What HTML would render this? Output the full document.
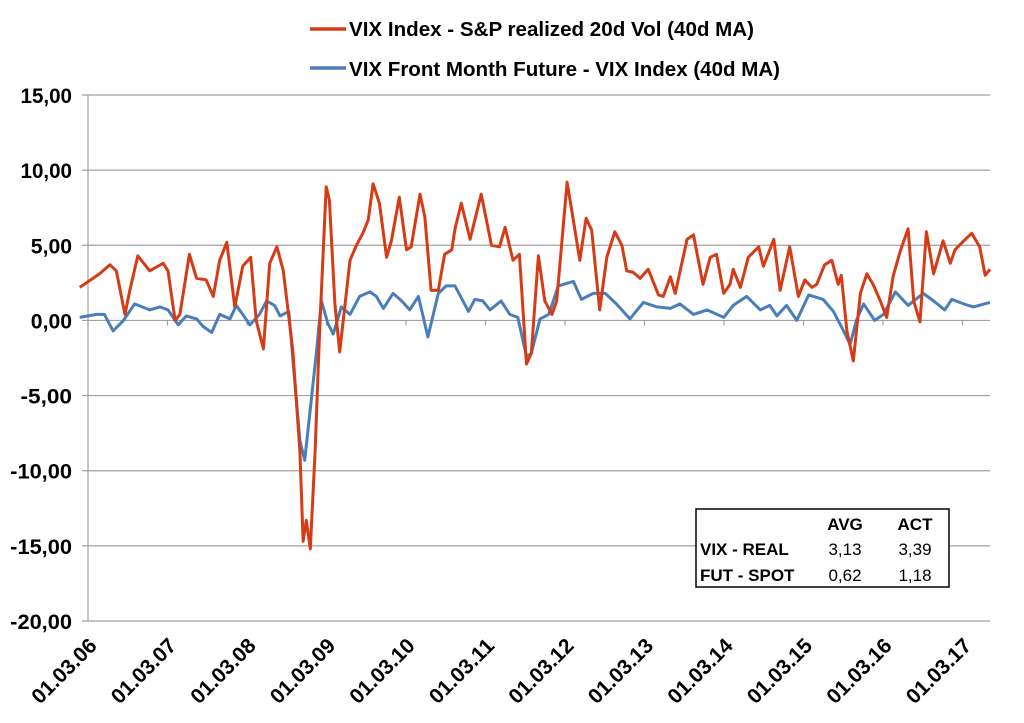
<!DOCTYPE html>
<html><head><meta charset="utf-8"><style>
body{margin:0;background:#fff;width:1024px;height:718px;overflow:hidden}
svg text{font-family:"Liberation Sans",Arial,sans-serif;font-weight:bold;fill:#000}
</style></head><body>
<svg id="c" width="1024" height="718"></svg>
<script>
const yTicks=[15,10,5,0,-5,-10,-15,-20];
const yTickLabels=["15,00","10,00","5,00","0,00","-5,00","-10,00","-15,00","-20,00"];
const xTickYears=[2006,2007,2008,2009,2010,2011,2012,2013,2014,2015,2016,2017];
const xTickLabels=["01.03.06","01.03.07","01.03.08","01.03.09","01.03.10","01.03.11","01.03.12","01.03.13","01.03.14","01.03.15","01.03.16","01.03.17"];
const redT=[2006.06,2006.31,2006.44,2006.52,2006.63,2006.69,2006.79,2006.94,2007.11,2007.17,2007.26,2007.32,2007.44,2007.53,2007.65,2007.74,2007.82,2007.91,2008.01,2008.11,2008.21,2008.28,2008.37,2008.45,2008.54,2008.62,2008.74,2008.83,2008.87,2008.91,2008.96,2009.02,2009.08,2009.16,2009.20,2009.27,2009.33,2009.46,2009.54,2009.62,2009.69,2009.75,2009.83,2009.92,2009.98,2010.08,2010.17,2010.23,2010.34,2010.40,2010.48,2010.57,2010.65,2010.74,2010.78,2010.86,2010.97,2011.11,2011.24,2011.34,2011.41,2011.51,2011.59,2011.68,2011.74,2011.83,2011.91,2012.00,2012.06,2012.19,2012.25,2012.35,2012.43,2012.50,2012.60,2012.69,2012.79,2012.88,2012.94,2013.02,2013.11,2013.21,2013.34,2013.40,2013.49,2013.55,2013.70,2013.78,2013.90,2013.99,2014.07,2014.16,2014.24,2014.28,2014.37,2014.47,2014.60,2014.66,2014.79,2014.87,2014.99,2015.10,2015.18,2015.27,2015.33,2015.43,2015.52,2015.60,2015.64,2015.71,2015.79,2015.88,2015.96,2016.04,2016.13,2016.21,2016.29,2016.38,2016.48,2016.55,2016.63,2016.71,2016.80,2016.92,2017.01,2017.07,2017.18,2017.28,2017.38,2017.45,2017.51];
const redV=[2.2,3.1,3.7,3.3,0.4,2.0,4.3,3.3,3.8,3.3,0,0.4,4.4,2.8,2.7,1.6,4.0,5.2,0.9,3.6,4.2,0,-1.9,3.8,4.9,3.3,-2.0,-8.7,-14.7,-13.3,-15.2,-8.7,-0.4,8.9,8.0,1.1,-2.1,4.0,5.0,5.8,6.7,9.1,7.8,4.2,5.3,8.2,4.7,4.9,8.4,6.9,2.0,2.0,4.4,4.7,6.1,7.8,5.4,8.4,5.0,4.9,6.2,4.0,4.4,-2.9,-2.2,4.3,1.3,0.4,1.3,9.2,7.3,4.0,6.8,6.0,0.7,4.2,5.9,5.0,3.3,3.2,2.8,3.4,1.7,1.6,2.9,1.8,5.4,5.7,2.4,4.2,4.4,1.8,2.4,3.4,2.2,4.2,4.9,3.6,5.4,2.0,4.9,1.6,2.7,2.2,2.4,3.7,4.0,2.4,3.0,-0.7,-2.7,1.8,3.1,2.4,1.3,0.2,2.9,4.6,6.1,1.3,-0.1,5.9,3.1,5.3,3.8,4.7,5.3,5.8,4.9,3.0,3.4];
const blueT=[2006.06,2006.27,2006.37,2006.48,2006.61,2006.75,2006.94,2007.07,2007.17,2007.30,2007.40,2007.53,2007.61,2007.72,2007.82,2007.95,2008.03,2008.11,2008.20,2008.32,2008.41,2008.51,2008.58,2008.69,2008.76,2008.83,2008.89,2008.95,2009.04,2009.10,2009.18,2009.25,2009.35,2009.46,2009.58,2009.71,2009.79,2009.88,2010.00,2010.11,2010.21,2010.32,2010.44,2010.57,2010.67,2010.78,2010.95,2011.03,2011.13,2011.22,2011.36,2011.47,2011.57,2011.68,2011.74,2011.85,2011.96,2012.08,2012.27,2012.37,2012.52,2012.67,2012.81,2012.98,2013.15,2013.32,2013.49,2013.61,2013.78,2013.95,2014.16,2014.28,2014.45,2014.62,2014.74,2014.83,2014.95,2015.08,2015.23,2015.41,2015.54,2015.64,2015.75,2015.83,2015.92,2016.06,2016.17,2016.32,2016.48,2016.67,2016.80,2016.94,2017.03,2017.18,2017.30,2017.51];
const blueV=[0.2,0.4,0.4,-0.7,0,1.1,0.7,0.9,0.7,-0.3,0.3,0.1,-0.4,-0.8,0.4,0.1,1.0,0.4,-0.3,0.4,1.3,1.0,0.3,0.6,-3.8,-8.0,-9.3,-6.4,-2.0,1.3,-0.2,-0.9,0.9,0.4,1.6,1.9,1.6,0.8,1.8,1.3,0.7,1.6,-1.1,1.8,2.3,2.3,0.6,1.4,1.3,0.7,1.3,0.4,0.2,-2.4,-2.2,0.1,0.4,2.3,2.6,1.4,1.8,1.8,1.1,0.1,1.2,0.9,0.8,1.1,0.4,0.7,0.2,1.0,1.6,0.7,1.0,0.3,1.0,0,1.7,1.4,0.6,-0.4,-1.6,0,1.1,0,0.4,1.9,1.0,1.8,1.3,0.7,1.4,1.1,0.9,1.2];
const tableRows=[["VIX - REAL","3,13","3,39"],["FUT - SPOT","0,62","1,18"]];

const NS="http://www.w3.org/2000/svg",svg=document.getElementById('c');
const X0=88,X1=990,Y0=95,Y1=621,T0=2006.164,PPY=79.5;
const xs=t=>X0+(t-T0)*PPY, ys=v=>Y0+(15-v)*(Y1-Y0)/35;
function el(tag,attrs,parent){const e=document.createElementNS(NS,tag);for(const k in attrs)e.setAttribute(k,attrs[k]);(parent||svg).appendChild(e);return e;}
yTicks.forEach((v,i)=>{
  const g=el('line',{x1:X0-6,x2:X1,y1:ys(v),y2:ys(v),stroke:'#a0a0a0','stroke-width':1.2});
  
  
  const s=yTickLabels[i];
  const t=el('text',{x:72,y:ys(v)+8,'text-anchor':'end','font-size':21,textLength:s.length*10.3,lengthAdjust:'spacingAndGlyphs'});
  t.textContent=s;
  
  
});
const ax=el('line',{x1:X0,x2:X0,y1:Y0,y2:Y1,stroke:'#a0a0a0','stroke-width':1.2});


xTickYears.forEach((yr,i)=>{
  const x=xs(yr+0.164);
  const tk=el('line',{x1:x,x2:x,y1:ys(0),y2:ys(0)+5,stroke:'#a0a0a0','stroke-width':1.2});
  
  
  const t=el('text',{x:0,y:0,'text-anchor':'end','font-size':21,textLength:82,lengthAdjust:'spacingAndGlyphs',transform:`translate(${x+10},${Y1+26}) rotate(-45)`});
  t.textContent=xTickLabels[i];
  
  
});
function line(T,V,color,name){
  const d=T.map((t,i)=>(i?'L':'M')+xs(t).toFixed(1)+','+ys(V[i]).toFixed(1)).join('');
  const p=el('path',{d,fill:'none',stroke:color,'stroke-width':3,'stroke-linejoin':'round'});
  
  
}
line(blueT,blueV,'#4a7ebb','series-fut-minus-spot');
line(redT,redV,'#d63b16','series-vix-minus-realized');
[['#d63b16','VIX Index - S&P realized 20d Vol (40d MA)',29,36,405],['#4a7ebb','VIX Front Month Future - VIX Index (40d MA)',68,76,431]].forEach(([c,txt,ly,by,w])=>{
  const l=el('line',{x1:310,x2:346,y1:ly,y2:ly,stroke:c,'stroke-width':3.5});
  
  
  const t=el('text',{x:349,y:by,'font-size':20,textLength:w,lengthAdjust:'spacingAndGlyphs'});
  t.textContent=txt;
  
  
});
const box=el('rect',{x:696,y:509,width:253,height:78,fill:'#fff',stroke:'#000','stroke-width':1.5});


[['AVG',845],['ACT',915]].forEach(([h,x])=>{
  const t=el('text',{x,y:530,'text-anchor':'middle','font-size':17});
  t.textContent=h;
  
  
});
tableRows.forEach((r,i)=>{
  const y=555+i*26;
  [[r[0],700,'start','bold'],[r[1],845,'middle','normal'],[r[2],915,'middle','normal']].forEach(([s,x,a,w])=>{
    const t=el('text',{x,y,'text-anchor':a,'font-size':17,'font-weight':w,style:'font-weight:'+w});
    t.textContent=s;
    
    
  });
});
</script>
</body></html>
